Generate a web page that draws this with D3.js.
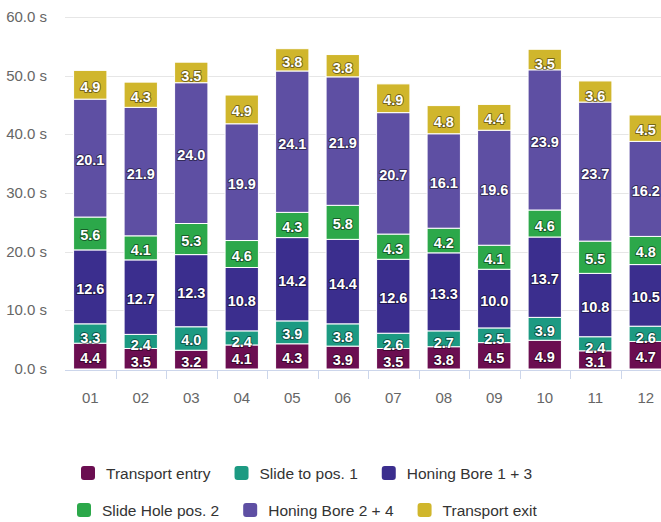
<!DOCTYPE html>
<html>
<head>
<meta charset="utf-8">
<script src="https://cdn.jsdelivr.net/npm/d3@7/dist/d3.min.js"></script>
<style>
  html, body { margin: 0; padding: 0; background: #fff; }
  svg { display: block; font-family: "Liberation Sans", Arial, sans-serif; }
</style>
</head>
<body>
<div id="chart"></div>
<script>
// Stacked cycle-time columns per station, six process steps each.

const categories = ['01', '02', '03', '04', '05', '06', '07', '08', '09', '10', '11', '12'];
const seriesNames = ['Transport entry', 'Slide to pos. 1', 'Honing Bore 1 + 3',
  'Slide Hole pos. 2', 'Honing Bore 2 + 4', 'Transport exit'];
const seriesColors = ['#6b0e51', '#1c9a82', '#3b2e8e', '#2ca84a', '#5e4fa3', '#d0b62c'];

const transportEntry = [4.4, 3.5, 3.2, 4.1, 4.3, 3.9, 3.5, 3.8, 4.5, 4.9, 3.1, 4.7];
const slideToPos1 = [3.3, 2.4, 4.0, 2.4, 3.9, 3.8, 2.6, 2.7, 2.5, 3.9, 2.4, 2.6];
const honingBore13 = [12.6, 12.7, 12.3, 10.8, 14.2, 14.4, 12.6, 13.3, 10.0, 13.7, 10.8, 10.5];
const slideHolePos2 = [5.6, 4.1, 5.3, 4.6, 4.3, 5.8, 4.3, 4.2, 4.1, 4.6, 5.5, 4.8];
const honingBore24 = [20.1, 21.9, 24.0, 19.9, 24.1, 21.9, 20.7, 16.1, 19.6, 23.9, 23.7, 16.2];
const transportExit = [4.9, 4.3, 3.5, 4.9, 3.8, 3.8, 4.9, 4.8, 4.4, 3.5, 3.6, 4.5];

const yTicks = [0, 10, 20, 30, 40, 50, 60];

const W = 661, H = 522;
const plot = { left: 65, right: 671, top: 17, bottom: 369 };

const rows = categories.map((c, i) => ({
  cat: c,
  s0: transportEntry[i], s1: slideToPos1[i], s2: honingBore13[i],
  s3: slideHolePos2[i], s4: honingBore24[i], s5: transportExit[i],
}));
const keys = ['s0', 's1', 's2', 's3', 's4', 's5'];
const stacked = d3.stack().keys(keys)(rows);

const x = d3.scaleBand().domain(categories).range([plot.left, plot.right]).paddingInner(0.34).paddingOuter(0.17);
const xTick = d3.scaleBand().domain(categories).range([plot.left, plot.right]);
const y = d3.scaleLinear().domain([0, 60]).range([plot.bottom, plot.top]);

const svg = d3.select('#chart').append('svg')
  .attr('width', W).attr('height', H)
  .attr('viewBox', `0 0 ${W} ${H}`);

// Grid + y labels
svg.append('g').selectAll('line')
  .data(yTicks.filter((t) => t > 0))
  .join('line')
  .attr('x1', plot.left).attr('x2', W)
  .attr('y1', (d) => Math.round(y(d)) + 0.5).attr('y2', (d) => Math.round(y(d)) + 0.5)
  .attr('stroke', '#e6e6e6').attr('stroke-width', 1);

svg.append('g').selectAll('text')
  .data(yTicks)
  .join('text')
  .attr('x', 47).attr('y', (d) => y(d) + 5)
  .attr('text-anchor', 'end')
  .attr('font-size', 15).attr('fill', '#666')
  .text((d) => `${d.toFixed(1)} s`);

// Bars
const layers = svg.append('g').selectAll('g')
  .data(stacked)
  .join('g')
  .attr('fill', (d, i) => seriesColors[i]);

layers.selectAll('rect')
  .data((d) => d)
  .join('rect')
  .attr('x', (d) => x(d.data.cat))
  .attr('width', x.bandwidth())
  .attr('y', (d) => y(d[1]))
  .attr('height', (d) => y(d[0]) - y(d[1]))
  .attr('stroke', '#fff').attr('stroke-width', 1);

// Data labels (white with a dark halo, kept inside the plot)
const labels = svg.append('g')
  .attr('font-size', 14.5).attr('font-weight', 'bold')
  .attr('text-anchor', 'middle');
stacked.forEach((layer) => {
  labels.selectAll(null)
    .data(layer)
    .join('text')
    .attr('x', (d) => x(d.data.cat) + x.bandwidth() / 2)
    .attr('y', (d) => {
      const h = y(d[0]) - y(d[1]);
      const c = (y(d[0]) + y(d[1])) / 2 + 2;
      return Math.min(c + (h < 22 ? 2 : 0), plot.bottom - 7) + 5;
    })
    .attr('fill', '#fff')
    .attr('stroke', 'rgba(0,0,0,0.45)').attr('stroke-width', 2)
    .attr('stroke-linejoin', 'round')
    .style('paint-order', 'stroke')
    .text((d) => (d[1] - d[0]).toFixed(1));
});

// X axis
const xg = svg.append('g');
xg.append('line')
  .attr('x1', plot.left).attr('x2', W)
  .attr('y1', plot.bottom + 1.5).attr('y2', plot.bottom + 1.5)
  .attr('stroke', '#ccd6eb');
xg.selectAll('line.tick')
  .data(categories.slice(1))
  .join('line')
  .attr('class', 'tick')
  .attr('x1', (d) => Math.round(xTick(d)) + 0.5).attr('x2', (d) => Math.round(xTick(d)) + 0.5)
  .attr('y1', plot.bottom + 1).attr('y2', plot.bottom + 10)
  .attr('stroke', '#ccd6eb');
xg.selectAll('text')
  .data(categories)
  .join('text')
  .attr('x', (d) => xTick(d) + xTick.bandwidth() / 2)
  .attr('y', 403)
  .attr('text-anchor', 'middle')
  .attr('font-size', 15).attr('fill', '#666')
  .text((d) => d);

// Legend: two centered rows
const legendRows = [[0, 1, 2], [3, 4, 5]];
const legendY = [473, 510];
const legend = svg.append('g');
legendRows.forEach((idxs, r) => {
  const row = legend.append('g');
  let cx = 0;
  idxs.forEach((i) => {
    const item = row.append('g').attr('transform', `translate(${cx},0)`);
    item.append('rect')
      .attr('x', 0).attr('y', legendY[r] - 7)
      .attr('width', 14).attr('height', 14).attr('rx', 3)
      .attr('fill', seriesColors[i]);
    const t = item.append('text')
      .attr('x', 25).attr('y', legendY[r] + 5.5)
      .attr('font-size', 15.5).attr('fill', '#333')
      .text(seriesNames[i]);
    cx += 25 + t.node().getComputedTextLength() + 24;
  });
  const total = cx - 24;
  row.attr('transform', `translate(${Math.round(307 - total / 2)},0)`);
});
</script>
</body>
</html>
